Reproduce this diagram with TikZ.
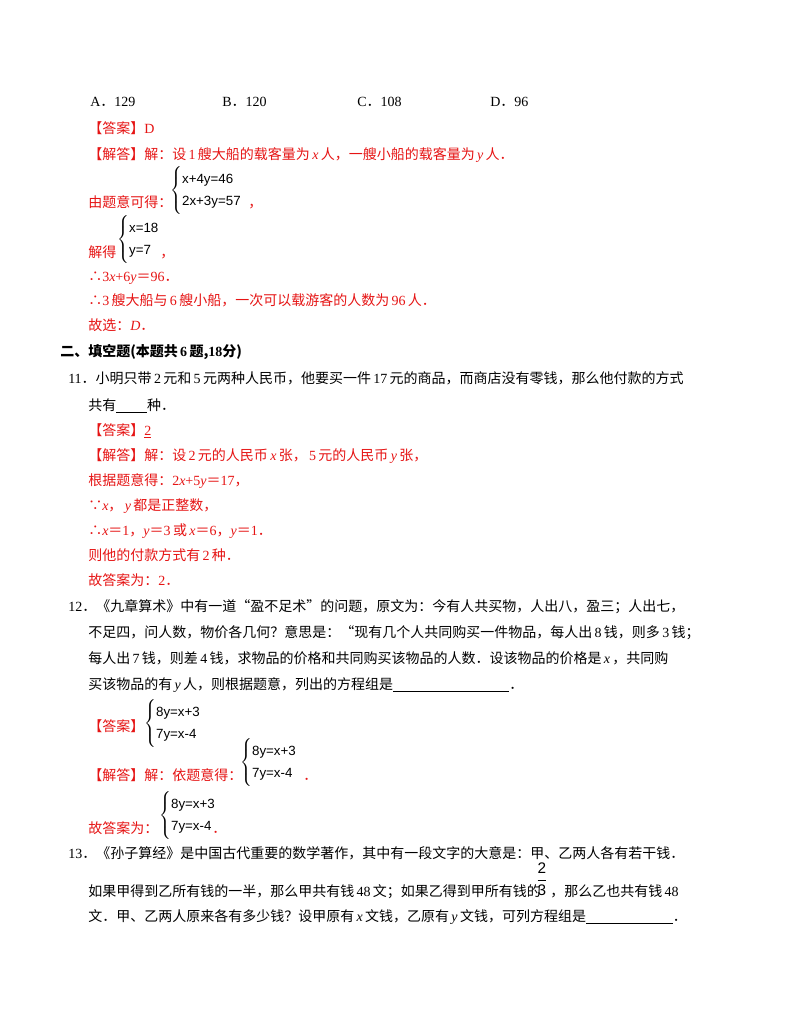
\documentclass[tikz,border=0pt]{standalone}
\usepackage{fontspec}
\setmainfont{Noto Sans CJK SC}
\newfontfamily\serif{Liberation Serif}
\newfontfamily\sysf{Liberation Sans}
\newcommand\vv[1]{\,{\serif\itshape #1}\,}
\newcommand\nn[1]{{\serif #1}}
\newcommand\ns[1]{\,{\serif #1}\,}
\definecolor{ans}{RGB}{230,20,20}
\begin{document}
\begin{tikzpicture}[x=0.75pt,y=-0.75pt,
  t/.style={anchor=base west,inner sep=0pt,font=\fontsize{10.5}{12}\selectfont},
  r/.style={t,text=ans},
  sys/.style={anchor=west,inner sep=0pt,font=\fontsize{10}{12}\sysf}]
\fill[white] (0,0) rectangle (800,1035);
\newcommand\sys[2]{$\left\{\renewcommand\arraystretch{1.4}\begin{array}{@{}l@{}}\mbox{#1}\\ \mbox{#2}\end{array}\right.$}
\node[t] (a1) at (90,106) {\nn{A}．\nn{129}};
\node[t] (a2) at (222,106) {\nn{B}．\nn{120}};
\node[t] (a3) at (357,106) {\nn{C}．\nn{108}};
\node[t] (a4) at (490,106) {\nn{D}．\nn{96}};
\node[r] (l1) at (88,133) {【答案】\nn{D}};
\node[r] (l2) at (88,159) {【解答】解：设\ns{1}艘大船的载客量为\vv{x}人，一艘小船的载客量为\vv{y}人．};
\node[r] (l3) at (88,207) {由题意可得：};
\node[sys] (s1) at (170,190) {\sys{x+4y=46}{2x+3y=57}};
\node[r] (c1) at (248,207) {，};
\node[r] (l4) at (88,257) {解得};
\node[sys] (s2) at (117,239) {\sys{x=18}{y=7}};
\node[r] (c2) at (160,257) {，};
\node[r] (l5) at (88,281) {∴\nn{3}{\serif\itshape x}\nn{+6}{\serif\itshape y}＝\nn{96}．};
\node[r] (l6) at (88,305) {∴\nn{3}\,艘大船与\ns{6}艘小船，一次可以载游客的人数为\ns{96}人．};
\node[r] (l7) at (88,330) {故选：{\serif\itshape D}．};
\node[t,font=\fontsize{10.5}{12}\selectfont\bfseries] (h2) at (60,356) {二、填空题(本题共\ns{6}题,\nn{18}分)};
\node[t] (q11) at (68,383) {\nn{11}．小明只带\ns{2}元和\ns{5}元两种人民币，他要买一件\ns{17}元的商品，而商店没有零钱，那么他付款的方式};
\node[t] (q11b) at (88,410) {共有\underline{\hspace{2.2em}}种．};
\node[r] (b1) at (88,435) {【答案】\underline{\nn{2}}};
\node[r] (b2) at (88,460) {【解答】解：设\ns{2}元的人民币\vv{x}张，\ns{5}元的人民币\vv{y}张，};
\node[r] (b3) at (88,485) {根据题意得：\nn{2}{\serif\itshape x}\nn{+5}{\serif\itshape y}＝\nn{17}，};
\node[r] (b4) at (88,510) {∵{\serif\itshape x}，\,{\serif\itshape y}\,都是正整数，};
\node[r] (b5) at (88,535) {∴{\serif\itshape x}＝\nn{1}，{\serif\itshape y}＝\nn{3}\,或\,{\serif\itshape x}＝\nn{6}，{\serif\itshape y}＝\nn{1}．};
\node[r] (b6) at (88,560) {则他的付款方式有\ns{2}种．};
\node[r] (b7) at (88,585) {故答案为：\nn{2}．};
\node[t] (q12) at (68,611) {\nn{12}．《九章算术》中有一道“盈不足术”的问题，原文为：今有人共买物，人出八，盈三；人出七，};
\node[t] (q12b) at (88,637) {不足四，问人数，物价各几何？意思是：“现有几个人共同购买一件物品，每人出\ns{8}钱，则多\ns{3}钱；};
\node[t] (q12c) at (88,663) {每人出\ns{7}钱，则差\ns{4}钱，求物品的价格和共同购买该物品的人数．设该物品的价格是\vv{x}，共同购};
\node[t] (q12d) at (88,689) {买该物品的有\vv{y}人，则根据题意，列出的方程组是\underline{\hspace{8.3em}}．};
\node[r] (c12) at (88,731) {【答案】};
\node[sys] (s3) at (144,723) {\sys{8y=x+3}{7y=x-4}};
\node[r] (d1) at (88,780) {【解答】解：依题意得：};
\node[sys] (s4) at (240,762) {\sys{8y=x+3}{7y=x-4}};
\node[r] (dd1) at (303,780) {．};
\node[r] (d2) at (88,833) {故答案为：};
\node[sys] (s5) at (159,815) {\sys{8y=x+3}{7y=x-4}};
\node[r] (dd2) at (212,833) {．};
\node[t] (q13) at (68,858) {\nn{13}．《孙子算经》是中国古代重要的数学著作，其中有一段文字的大意是：甲、乙两人各有若干钱．};
\node[t] (q13b) at (88,896) {如果甲得到乙所有钱的一半，那么甲共有钱\ns{48}文；如果乙得到甲所有钱的};
\node[inner sep=0pt,font=\fontsize{11.5}{12}\sysf] (fr) at (542,879) {$\displaystyle\frac{\mbox{2}}{\mbox{3}}$};
\node[t] (q13c) at (550,896) {，那么乙也共有钱\ns{48}};
\node[t] (q13d) at (88,921) {文．甲、乙两人原来各有多少钱？设甲原有\vv{x}文钱，乙原有\vv{y}文钱，可列方程组是\underline{\hspace{6.2em}}．};
\end{tikzpicture}
\end{document}
